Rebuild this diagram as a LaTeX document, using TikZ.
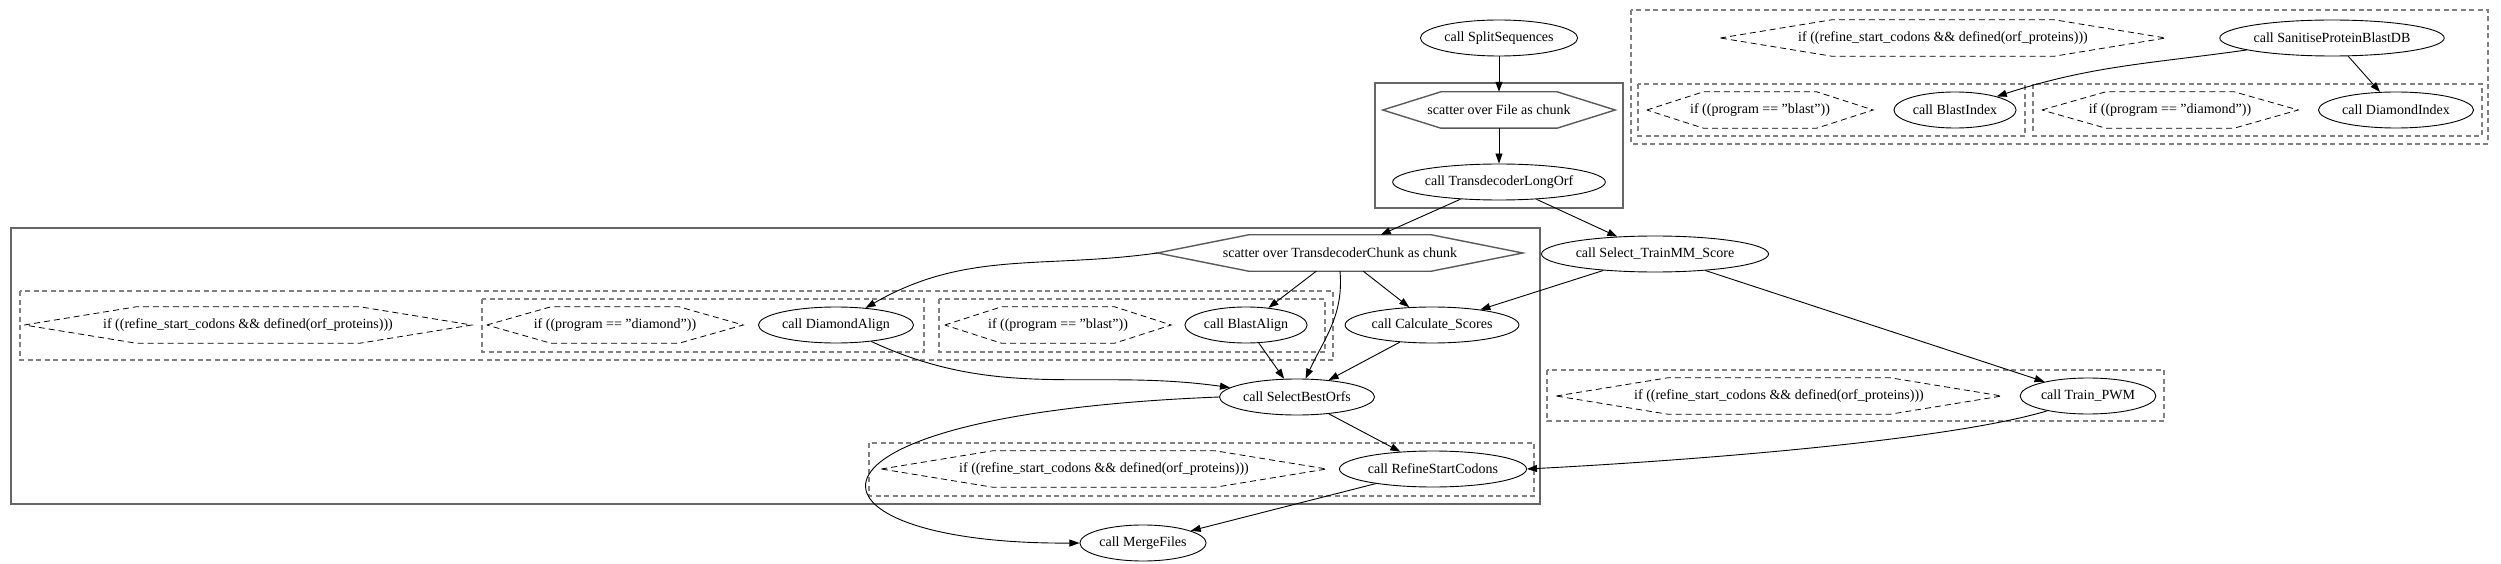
\documentclass[tikz,border=0pt]{standalone}
\usepackage{fontspec}
\setmainfont{Liberation Serif}
\usetikzlibrary{shapes.geometric, arrows.meta, calc}

\begin{document}
\begin{tikzpicture}[x=1pt, y=-1pt,
    every node/.style={font=\fontsize{14}{16}\selectfont},
    callnode/.style={draw, ellipse, line width=0.9pt, inner xsep=1pt, inner ysep=2pt, minimum height=36pt},
    condhex/.style={rectangle, inner sep=0pt, minimum height=36pt},
    condline/.style={dash pattern=on 6pt off 4pt, line width=0.8pt},
    scatterline/.style={draw=black!65, line width=1.4pt},
    clusterbox/.style={draw=black!60, line width=1.4pt},
    condbox/.style={draw=black!50, line width=1.6pt, dash pattern=on 5pt off 3.5pt},
    flow/.style={-{Triangle[length=10pt, width=7pt]}, line width=0.9pt}]

    \useasboundingbox (0,0) rectangle (2501,564);

    % Clusters
    \draw[clusterbox] (1375,83) rectangle (1623,208);
    \draw[clusterbox] (11,228) rectangle (1540,504);
    \draw[condbox] (1631,10) rectangle (2488,144);
    \draw[condbox] (1638,84) rectangle (2025,136);
    \draw[condbox] (2033,84) rectangle (2482,136);
    \draw[condbox] (20,291) rectangle (1333,360);
    \draw[condbox] (482,299) rectangle (924,352);
    \draw[condbox] (939,299) rectangle (1325,352);
    \draw[condbox] (869,443) rectangle (1534,496);
    \draw[condbox] (1547,370) rectangle (2164,421);

    % Split and long ORFs
    \node[callnode] (split) at (1499,38) {call SplitSequences};
    \node[condhex, minimum width=232pt] (fileHex) at (1499,110) {scatter over File as chunk};
    \node[callnode] (longOrf) at (1499,182) {call TransdecoderLongOrf};
    \node[callnode] (selTrain) at (1655,254) {call Select\_TrainMM\_Score};

    % Protein database
    \node[condhex, minimum width=445pt] (refHexA) at (1943,38) {if ((refine\_start\_codons \&\& defined(orf\_proteins)))};
    \node[callnode] (sanitise) at (2332,38) {call SanitiseProteinBlastDB};
    \node[condhex, minimum width=226pt] (blastHexA) at (1760,110) {if ((program == "blast"))};
    \node[callnode] (blastIdx) at (1955,110) {call BlastIndex};
    \node[condhex, minimum width=256pt] (diaHexA) at (2170,110) {if ((program == "diamond"))};
    \node[callnode] (diaIdx) at (2396,110) {call DiamondIndex};

    % Chunk scatter
    \node[condhex, minimum width=365pt] (chunkHex) at (1340,253) {scatter over TransdecoderChunk as chunk};
    \node[condhex, minimum width=447pt] (refHexB) at (248,325) {if ((refine\_start\_codons \&\& defined(orf\_proteins)))};
    \node[condhex, minimum width=256pt] (diaHexB) at (615,325) {if ((program == "diamond"))};
    \node[callnode] (diaAlign) at (836,325) {call DiamondAlign};
    \node[condhex, minimum width=226pt] (blastHexB) at (1058,325) {if ((program == "blast"))};
    \node[callnode] (blastAlign) at (1246,325) {call BlastAlign};
    \node[callnode] (calcScores) at (1432,325) {call Calculate\_Scores};
    \node[callnode] (bestOrfs) at (1297,397) {call SelectBestOrfs};
    \node[condhex, minimum width=445pt] (refHexC) at (1104,469) {if ((refine\_start\_codons \&\& defined(orf\_proteins)))};
    \node[callnode] (refineStart) at (1433,469) {call RefineStartCodons};
    \node[callnode] (mergeFiles) at (1143,543) {call MergeFiles};

    % PWM training
    \node[condhex, minimum width=445pt] (refHexD) at (1779,396) {if ((refine\_start\_codons \&\& defined(orf\_proteins)))};
    \node[callnode] (trainPwm) at (2088,396) {call Train\_PWM};

    % Hexagon outlines
    \foreach \h/\s in {fileHex/scatterline, chunkHex/scatterline, refHexA/condline, refHexB/condline,
        refHexC/condline, refHexD/condline, blastHexA/condline, blastHexB/condline, diaHexA/condline, diaHexB/condline}
      \draw[\s] (\h.west) -- ($(\h.north west)!0.25!(\h.north east)$) -- ($(\h.north west)!0.75!(\h.north east)$)
        -- (\h.east) -- ($(\h.south west)!0.75!(\h.south east)$) -- ($(\h.south west)!0.25!(\h.south east)$) -- cycle;

    % Edges
    \draw[flow] (split) -- (fileHex);
    \draw[flow] (fileHex) -- (longOrf);
    \draw[flow] (longOrf) -- (chunkHex);
    \draw[flow] (longOrf) -- (selTrain);
    \draw[flow] (sanitise) to[out=188, in=18] (blastIdx);
    \draw[flow] (sanitise) -- (diaIdx);
    \draw[flow] (chunkHex.west) to[out=188, in=30] (diaAlign);
    \draw[flow] (chunkHex) -- (blastAlign);
    \draw[flow] (chunkHex.south) to[out=-85, in=65] (bestOrfs);
    \draw[flow] (chunkHex) -- (calcScores);
    \draw[flow] (selTrain) -- (calcScores);
    \draw[flow] (selTrain) -- (trainPwm);
    \draw[flow] (diaAlign) to[out=-25, in=172] (bestOrfs);
    \draw[flow] (blastAlign) -- (bestOrfs);
    \draw[flow] (calcScores) -- (bestOrfs);
    \draw[flow] (bestOrfs) -- (refineStart);
    \draw[flow] (bestOrfs.west) .. controls (760,415) and (790,545) .. (mergeFiles.west);
    \draw[flow] (refineStart) -- (mergeFiles);
    \draw[flow] (trainPwm.200) .. controls (1950,440) and (1700,460) .. (refineStart.east);
\end{tikzpicture}
\end{document}
